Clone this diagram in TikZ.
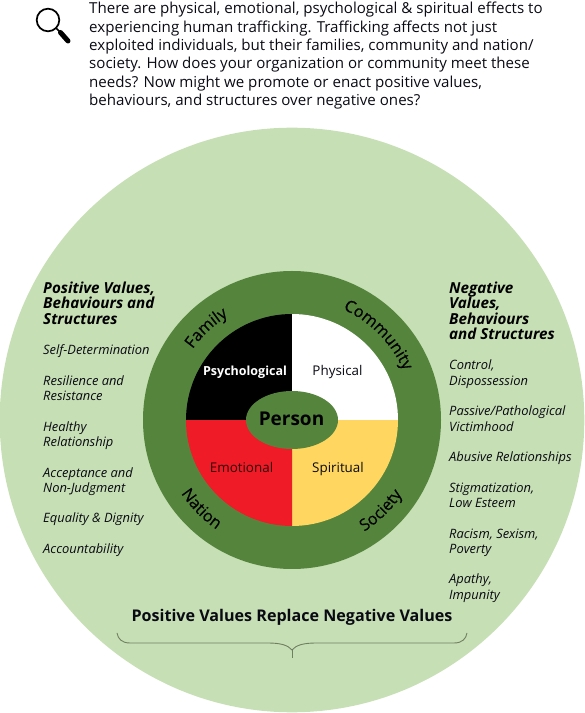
\documentclass[tikz,border=0pt]{standalone}
\usepackage{fontspec}
\setmainfont{Open Sans}
\newfontfamily\arcf[FakeBold=0.3]{Open Sans}
\usetikzlibrary{decorations.text,calc}
\definecolor{lightg}{HTML}{C6DFB4}
\definecolor{darkg}{HTML}{55853D}
\definecolor{redq}{HTML}{EF1C27}
\definecolor{yelq}{HTML}{FFD65F}
\definecolor{txt}{HTML}{0A0A14}
\definecolor{bracec}{HTML}{6F7F62}
\tikzset{
  lbl/.style={anchor=base west,inner sep=0pt,text=txt,font=\fontsize{12.9}{14}\selectfont\itshape},
  head/.style={anchor=base west,inner sep=0pt,text=black,font=\fontsize{15.2}{16}\selectfont\bfseries\itshape},
  intro/.style={anchor=base west,inner sep=0pt,text=txt,font=\fontsize{15.1}{16}\selectfont},
  quad/.style={anchor=base,inner sep=0pt,font=\fontsize{13.4}{15}\selectfont},
  arctext/.style={decorate,decoration={text along path,text align=center,text={|\arcf\fontsize{16.3}{18}\selectfont\color{black}|#1}}}
}
\begin{document}
\begin{tikzpicture}[x=1pt,y=1pt]
\useasboundingbox (0,0) rectangle (585,713);
% magnifier
\draw[line width=1.7pt,black] (48,693) circle (11.3);
\draw[line width=1.5pt,black] (56,685) -- (60,681);
\draw[line width=5pt,black,line cap=round] (60.5,680.5) -- (68,672);
% intro text
\foreach \yy/\tt [count=\i] in {
 699.4/{There are physical, emotional, psychological \& spiritual effects to},
 680.9/{experiencing human trafficking. Trafficking affects not just},
 662.9/{exploited individuals, but their families, community and nation/},
 644.9/{society. How does your organization or community meet these},
 625.9/{needs? Now might we promote or enact positive values,},
 607.6/{behaviours, and structures over negative ones?}}
  \node[intro] (intro\i) at (89,\yy) {\tt};
% circles
\coordinate (c) at (292,293);
\fill[lightg] (c) circle (292.3);
\fill[darkg] (c) circle (149);
\fill[yelq] (c) -- ++(106,0) arc (0:-90:106) -- cycle;
\fill[redq] (c) -- ++(0,-106) arc (270:180:106) -- cycle;
\fill[black] (c) -- ++(-106,0) arc (180:90:106) -- cycle;
\fill[white] (c) -- ++(0,106) arc (90:0:106) -- cycle;
\fill[darkg] (c) ellipse (46 and 29);
\node[anchor=base,inner sep=0pt,text=black,font=\fontsize{19}{22}\selectfont\bfseries] (person) at (291.5,287) {Person};
\node[quad,text=white,font=\fontsize{12.5}{15}\selectfont\bfseries] (psy) at (245,337) {Psychological};
\node[quad,text=txt] (phy) at (337.5,337) {Physical};
\node[quad,text=black!80!redq] (emo) at (241.5,240.5) {Emotional};
\node[quad,text=txt] (spi) at (338,240.5) {Spiritual};
% arc text
\path[arctext=Family] ($(c)+(152:122)$) arc (152:114:122);
\path[arctext=Community] ($(c)+(70:122)$) arc (70:19:122);
\path[arctext=Nation] ($(c)+(205:133)$) arc (205:244:133);
\path[arctext=Society] ($(c)+(294:133)$) arc (294:335:133);
% left column
\foreach \yy/\tt [count=\i] in {419/{Positive Values,},404/{Behaviours and},388.5/{Structures}}
  \node[head] (lh\i) at (43,\yy) {\tt};
\foreach \yy/\tt [count=\i] in {358/{Self-Determination},327/{Resilience and},312/{Resistance},281/{Healthy},266/{Relationship},235/{Acceptance and},220/{Non-Judgment},190/{Equality \& Dignity},159/{Accountability}}
  \node[lbl] (ll\i) at (43,\yy) {\tt};
% right column
\foreach \yy/\tt [count=\i] in {419/{Negative},404/{Values,},388.5/{Behaviours},373/{and Structures}}
  \node[head] (rh\i) at (449,\yy) {\tt};
\foreach \yy/\tt [count=\i] in {343/{Control,},327/{Dispossession},297/{Passive/Pathological},281/{Victimhood},251/{Abusive Relationships},220/{Stigmatization,},205/{Low Esteem},174/{Racism, Sexism,},159/{Poverty},129/{Apathy,},113/{Impunity}}
  \node[lbl] (rl\i) at (449,\yy) {\tt};
% bottom
\node[anchor=base,inner sep=0pt,text=txt,font=\fontsize{16.1}{18}\selectfont\bfseries] (title) at (292,91) {Positive Values Replace Negative Values};
\draw[bracec,line width=0.9pt] (117,80) .. controls (118,74) and (122,70) .. (130,70) -- (268,70)
  .. controls (280,70) and (288,68) .. (292,63) .. controls (296,68) and (304,70) .. (316,70) -- (454,70)
  .. controls (462,70) and (466,74) .. (467,80);
\draw[bracec,line width=0.9pt] (292,63) -- (292,55);
\end{tikzpicture}
\end{document}
